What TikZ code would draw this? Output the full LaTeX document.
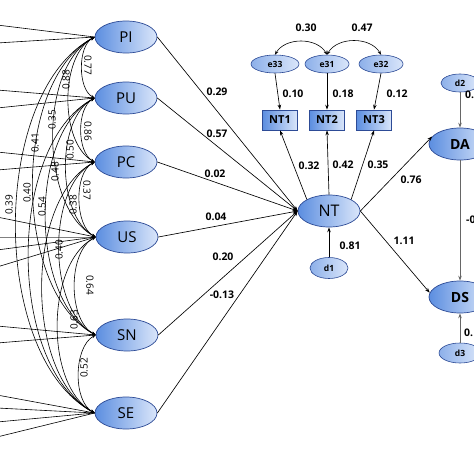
\documentclass[tikz,border=0pt]{standalone}
\usepackage{fontspec}
\setmainfont{Open Sans}
\usetikzlibrary{shapes.geometric,arrows.meta}
\definecolor{edgeblue}{RGB}{45,75,150}
\definecolor{lightblue}{RGB}{218,230,250}
\definecolor{midblue}{RGB}{92,142,224}
\tikzset{
  lat/.style={ellipse,draw=edgeblue,line width=0.7pt,left color=midblue,right color=lightblue,
    minimum width=62pt,minimum height=32pt,inner sep=0pt,font=\fontsize{15}{15}\selectfont},
  latb/.style={lat,font=\bfseries\fontsize{14}{14}\selectfont},
  err/.style={ellipse,draw=edgeblue,line width=0.6pt,left color=midblue!70!white,right color=lightblue,
    minimum width=44pt,minimum height=18pt,inner sep=0pt,font=\bfseries\fontsize{8.5}{8.5}\selectfont},
  obs/.style={rectangle,draw=edgeblue,line width=0.7pt,left color=midblue,right color=lightblue,
    minimum width=35pt,minimum height=20pt,inner sep=0pt,font=\bfseries\fontsize{11}{11}\selectfont},
  plab/.style={font=\bfseries\fontsize{10.5}{10.5}\selectfont,inner sep=0pt},
  clab/.style={font=\fontsize{10}{10}\selectfont,rotate=90,inner sep=0pt},
  clabr/.style={font=\fontsize{10}{10}\selectfont,rotate=-90,inner sep=0pt},
  arr/.style={-{Stealth[length=5pt,width=3.5pt]},line width=0.65pt},
  cov/.style={{Stealth[length=4pt,width=3pt]}-{Stealth[length=4pt,width=3pt]},line width=0.6pt},
  feed/.style={line width=0.6pt},
}
\begin{document}
\begin{tikzpicture}[x=1pt,y=-1pt]
\useasboundingbox (0,0) rectangle (474,474);
\fill[white] (0,0) rectangle (474,474);

% latent exogenous constructs
\node[lat] (PI) at (126,37) {PI};
\node[lat] (PU) at (126,98) {PU};
\node[lat] (PC) at (126,162) {PC};
\node[lat] (US) at (127,237) {US};
\node[lat] (SN) at (127,335) {SN};
\node[lat] (SE) at (126,413) {SE};

% endogenous
\node[lat,font=\fontsize{16}{16}\selectfont] (NT) at (329,211) {NT};
\node[latb] (DA) at (460,144) {DA};
\node[latb] (DS) at (460,297) {DS};

% indicators and errors
\node[obs] (NT1) at (280,120) {NT1};
\node[obs] (NT2) at (327,120) {NT2};
\node[obs] (NT3) at (374,120) {NT3};
\node[err,minimum width=48pt] (e33) at (275,64) {e33};
\node[err] (e31) at (327,64) {e31};
\node[err] (e32) at (381,64) {e32};
\node[err,minimum width=38pt,minimum height=21pt] (d1) at (329,268) {d1};
\node[err,minimum width=38pt] (d2) at (460,83) {d2};
\node[err,minimum width=42pt,minimum height=20pt] (d3) at (460,353) {d3};

% incoming lines from the left (cut off)
\coordinate (a1) at (-3,25);  \coordinate (a2) at (-3,43);
\coordinate (b1) at (-3,90);  \coordinate (b2) at (-3,108);
\coordinate (c1) at (-3,152); \coordinate (c2) at (-3,170);
\coordinate (u1) at (-3,217); \coordinate (u2) at (-3,237);
\coordinate (u3) at (-3,250); \coordinate (u4) at (-3,267);
\coordinate (s1) at (-3,326); \coordinate (s2) at (-3,343);
\coordinate (t1) at (-3,395); \coordinate (t2) at (-3,408);
\coordinate (t3) at (-3,422); \coordinate (t4) at (-3,437);
\draw[feed] (a1) -- (PI.west); \draw[feed] (a2) -- (PI.west);
\draw[feed] (b1) -- (PU.west); \draw[feed] (b2) -- (PU.west);
\draw[feed] (c1) -- (PC.west); \draw[feed] (c2) -- (PC.west);
\draw[feed] (u1) -- (US.west); \draw[feed,gray] (u2) -- (US.west);
\draw[feed] (u3) -- (US.west); \draw[feed] (u4) -- (US.west);
\draw[feed] (s1) -- (SN.west); \draw[feed] (s2) -- (SN.west);
\draw[feed] (t1) -- (SE.west); \draw[feed] (t2) -- (SE.west);
\draw[feed] (t3) -- (SE.west); \draw[feed] (t4) -- (SE.west);

% covariances among exogenous constructs
\draw[cov] (PI.west) .. controls +(-17,9) and +(-17,-9) .. (PU.west);
\draw[cov] (PI.west) .. controls +(-35,19) and +(-35,-19) .. (PC.west);
\draw[cov] (PI.west) .. controls +(-56,30) and +(-56,-30) .. (US.west);
\draw[cov] (PI.west) .. controls +(-83,45) and +(-83,-45) .. (SN.west);
\draw[cov] (PI.west) .. controls +(-105,56) and +(-105,-56) .. (SE.west);
\draw[cov] (PU.west) .. controls +(-18,10) and +(-18,-10) .. (PC.west);
\draw[cov] (PU.west) .. controls +(-39,21) and +(-39,-21) .. (US.west);
\draw[cov] (PU.west) .. controls +(-66,36) and +(-66,-36) .. (SN.west);
\draw[cov] (PU.west) .. controls +(-88,47) and +(-88,-47) .. (SE.west);
\draw[cov] (PC.west) .. controls +(-21,11) and +(-21,-11) .. (US.west);
\draw[cov] (PC.west) .. controls +(-48,26) and +(-48,-26) .. (SN.west);
\draw[cov] (PC.west) .. controls +(-70,38) and +(-70,-38) .. (SE.west);
\draw[cov] (US.west) .. controls +(-28,15) and +(-28,-15) .. (SN.west);
\draw[cov] (US.west) .. controls +(-50,27) and +(-50,-27) .. (SE.west);
\draw[cov] (SN.west) .. controls +(-22,12) and +(-22,-12) .. (SE.west);

\node[clabr] (k1) at (88,65) {0.77};
\node[clab] (k2) at (66,80) {0.88};
\node[clab] (k3) at (52,120) {0.35};
\node[clab] (k4) at (35,143) {0.41};
\node[clab] (k5) at (9,205) {0.39};
\node[clabr] (k6) at (88,131) {0.86};
\node[clab] (k7) at (70,150) {0.50};
\node[clab] (k8) at (55,172) {0.48};
\node[clab] (k9) at (27,193) {0.40};
\node[clab] (k10) at (42,207) {0.54};
\node[clabr] (k11) at (87,190) {0.37};
\node[clab] (k12) at (73,205) {0.38};
\node[clab] (k13) at (59,250) {0.40};
\node[clabr] (k14) at (90,285) {0.64};
\node[clab] (k15) at (74,320) {0.63};
\node[clab] (k16) at (84,368) {0.52};

% structural paths to NT
\draw[arr] (PI.east) -- (NT.west);
\draw[arr] (PU.east) -- (NT.west);
\draw[arr] (PC.east) -- (NT.west);
\draw[arr] (US.east) -- (NT.west);
\draw[arr] (SN.east) -- (NT.west);
\draw[arr] (SE.east) -- (NT.west);
\node[plab] (p1) at (217,92) {0.29};
\node[plab] (p2) at (217,134) {0.57};
\node[plab] (p3) at (215,174) {0.02};
\node[plab] (p4) at (216,217) {0.04};
\node[plab] (p5) at (223,257) {0.20};
\node[plab] (p6) at (222,295) {-0.13};

% measurement of NT
\draw[arr] (NT.north west) -- (NT1.south);
\draw[arr] (NT.north) -- (NT2.south);
\draw[arr] (NT.north east) -- (NT3.south);
\node[plab] (m1) at (309,166) {0.32};
\node[plab] (m2) at (343,165) {0.42};
\node[plab] (m3) at (378,165) {0.35};
\draw[arr] (e33.south) -- (NT1.north);
\draw[arr] (e31.south) -- (NT2.north);
\draw[arr] (e32.south) -- (NT3.north);
\node[plab] (r1) at (293,94) {0.10};
\node[plab] (r2) at (343,94) {0.18};
\node[plab] (r3) at (397,94) {0.12};
\draw[cov] (e31.north) to[out=120,in=60] (e33.north);
\draw[cov] (e31.north) to[out=60,in=120] (e32.north);
\node[plab] (q1) at (306,28) {0.30};
\node[plab] (q2) at (362,28) {0.47};

% disturbances and outcomes
\draw[arr] (d1.north) -- (NT.south);
\node[plab] (w1) at (350,246) {0.81};
\draw[arr] (NT.east) -- (DA.165);
\node[plab] (w2) at (411,180) {0.76};
\draw[arr] (NT.east) -- (DS.172);
\node[plab] (w3) at (404,241) {1.11};
\draw[arr,draw=gray!80!black] (d2.south) -- (DA.north);
\node[plab,anchor=west] (w4) at (465,95) {0.};
\draw[arr,draw=gray!80!black] (DA.south) -- (DS.north);
\node[plab,anchor=west] (w5) at (466,220) {-0};
\draw[arr,draw=gray!80!black] (d3.north) -- (DS.south);
\node[plab,anchor=west] (w6) at (464,333) {0.};
\end{tikzpicture}
\end{document}
